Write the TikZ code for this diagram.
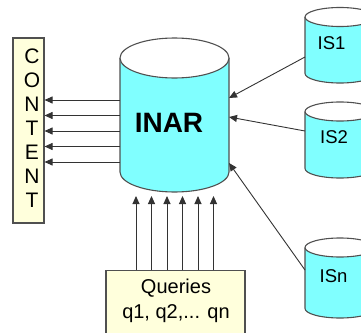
\documentclass[tikz,border=0pt]{standalone}
\usepackage{fontspec}
\setmainfont{Liberation Sans}
\usetikzlibrary{arrows.meta}

\definecolor{dbcyan}{HTML}{80FFFF}
\definecolor{notecream}{HTML}{FFFFDC}
\definecolor{edgegray}{HTML}{505050}

\tikzset{
  dbedge/.style={draw=edgegray, line width=1.1pt},
  notebox/.style={draw=edgegray, line width=1.1pt, fill=notecream, inner sep=0pt},
  feed/.style={draw=black!80, line width=0.9pt, -{Triangle[length=8pt,width=7pt]}},
  dbbody/.style={inner sep=0pt, outer sep=0pt},
}

% #1 name, #2 centre x, #3 top y, #4 bottom y, #5 x radius, #6 y radius
\newcommand{\database}[6]{%
  \fill[dbcyan] (#2-#5,#3+#6) -- (#2-#5,#4-#6)
    arc[start angle=180,end angle=360,x radius=#5pt,y radius=#6pt] -- (#2+#5,#3+#6) -- cycle;
  \draw[dbedge] (#2-#5,#3+#6) -- (#2-#5,#4-#6)
    arc[start angle=180,end angle=360,x radius=#5pt,y radius=#6pt] -- (#2+#5,#3+#6);
  \draw[dbedge, fill=white] (#2,#3+#6) ellipse[x radius=#5pt, y radius=#6pt];
  \node[dbbody, minimum width=2*#5pt, minimum height=#4pt-#3pt] (#1) at (#2,{(#3+#4)/2}) {};
}

\begin{document}
\begin{tikzpicture}[x=1pt,y=-1pt]
\useasboundingbox (0,0) rectangle (361,332);
\clip (0,0) rectangle (361,332);

\database{inar}{174.5}{38}{192}{54.5}{20}
\database{isone}{340}{7.5}{83}{35}{9.5}
\database{istwo}{340}{102}{178}{35}{9.5}
\database{isn}{340}{238}{318}{35}{9.5}

\node[font=\bfseries\fontsize{28}{30}\selectfont] (inar-text) at (169,122.5) {INAR};
\node[font=\fontsize{18.5}{20}\selectfont] (isone-text) at (331.5,43.5) {IS1};
\node[font=\fontsize{18.5}{20}\selectfont] (istwo-text) at (334,137) {IS2};
\node[font=\fontsize{18.5}{20}\selectfont] (isn-text) at (333.5,276.5) {ISn};

% content strip on the left
\node[notebox, minimum width=31pt, minimum height=185pt] (content) at (28.5,130.5) {};
\node[font=\fontsize{21}{24}\selectfont, align=center] (content-text) at (32,128) {C\\O\\N\\T\\E\\N\\T};

% queries box, runs off the bottom edge
\node[notebox, minimum width=139pt, minimum height=80pt, anchor=north] (queries) at (175.5,270) {};
\node[font=\fontsize{20}{25}\selectfont, align=center] (queries-text) at (176,301.3) {Queries\\q1, q2,... qn};

\foreach \y in {100,115.5,131,146.5,162}{
  \draw[feed] (inar.west |- 0,\y) -- (content.east |- 0,\y);
}

\coordinate (qtip) at (0,196);
\foreach \x in {136,151.5,167,182.5,198,213.5}{
  \draw[feed] (queries.north -| \x,0) -- (qtip -| \x,0);
}

\draw[feed] (isone.west |- 0,57) -- (inar.east |- 0,98);
\draw[feed] (istwo.west |- 0,131) -- (inar.east |- 0,117);
\draw[feed] (isn.west |- 0,270) -- (inar.east |- 0,163);
\end{tikzpicture}
\end{document}
